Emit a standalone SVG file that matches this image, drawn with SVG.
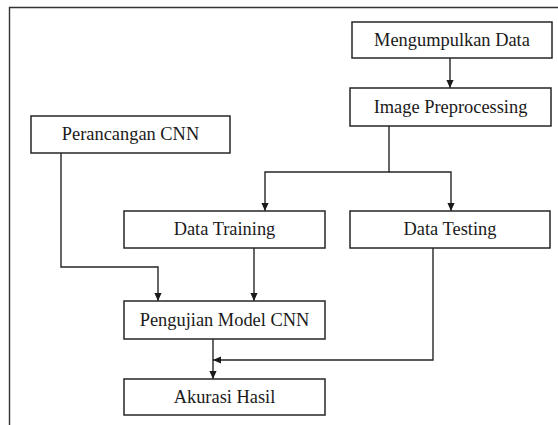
<svg xmlns="http://www.w3.org/2000/svg" width="558" height="425" viewBox="0 0 558 425">
<defs>
<marker id="arr" viewBox="0 0 10 10" refX="10" refY="5" markerWidth="8" markerHeight="8" markerUnits="userSpaceOnUse" orient="auto">
<path d="M0,0.5 L10,5 L0,9.5 z" fill="#1a1a1a"/>
</marker>
<style>
.box{fill:#fff;stroke:#262626;stroke-width:1.5}
.lbl{font-family:'Liberation Serif',serif;font-size:18.4px;fill:#1a1a1a;text-anchor:middle}
.con{fill:none;stroke:#262626;stroke-width:1.4}
.frame{fill:none;stroke:#333;stroke-width:1.4}
</style>
</defs>
<rect width="558" height="425" fill="#fff"/>
<path class="frame" d="M558,7.5 H9.5 V425"/>
<g id="connectors">
<path class="con" d="M450,58 V88" marker-end="url(#arr)"/>
<path class="con" d="M389,126 V172 H265 V211" marker-end="url(#arr)"/>
<path class="con" d="M389,172 H451 V211" marker-end="url(#arr)"/>
<path class="con" d="M61,153 V267 H158 V301" marker-end="url(#arr)"/>
<path class="con" d="M254,248 V301" marker-end="url(#arr)"/>
<path class="con" d="M213,339 V379" marker-end="url(#arr)"/>
<path class="con" d="M433,248 V360 H213" marker-end="url(#arr)"/>
</g>
<g id="mengumpulkan">
<rect class="box" x="352" y="22" width="200" height="36"/>
<text class="lbl" x="452" y="45.5">Mengumpulkan Data</text>
</g>
<g id="preprocessing">
<rect class="box" x="350" y="88" width="201" height="38"/>
<text class="lbl" x="450.5" y="112.5">Image Preprocessing</text>
</g>
<g id="perancangan">
<rect class="box" x="31" y="116" width="199" height="37"/>
<text class="lbl" x="130.5" y="140">Perancangan CNN</text>
</g>
<g id="training">
<rect class="box" x="124" y="211" width="201" height="37"/>
<text class="lbl" x="224.5" y="235">Data Training</text>
</g>
<g id="testing">
<rect class="box" x="350" y="211" width="200" height="37"/>
<text class="lbl" x="450" y="235">Data Testing</text>
</g>
<g id="pengujian">
<rect class="box" x="124" y="301" width="201" height="38"/>
<text class="lbl" x="224.5" y="325.5">Pengujian Model CNN</text>
</g>
<g id="akurasi">
<rect class="box" x="124" y="379" width="201" height="36"/>
<text class="lbl" x="224.5" y="402.5">Akurasi Hasil</text>
</g>
</svg>
